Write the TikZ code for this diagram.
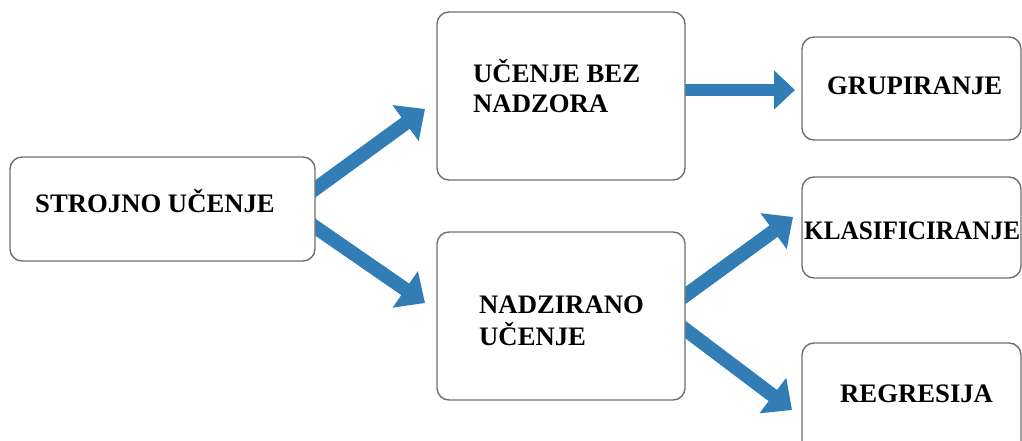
\documentclass[tikz,border=0pt]{standalone}
\usepackage{fontspec}
\setmainfont{Liberation Serif}
\usetikzlibrary{arrows.meta}
\definecolor{arrowblue}{RGB}{50,125,182}
\definecolor{boxgray}{RGB}{112,112,112}
\begin{document}
\begin{tikzpicture}[x=1pt,y=-1pt,
  box/.style={draw=boxgray,line width=1.4pt,fill=white,rounded corners=12pt,inner sep=0pt,outer sep=0pt},
  lbl/.style={font=\fontsize{26.7}{30}\selectfont\bfseries,anchor=base west,inner sep=0pt},
  bigarrow/.style={draw=arrowblue,line width=14pt,-{Triangle[length=24pt,width=43pt]}},
  harrow/.style={draw=arrowblue,line width=12pt,-{Triangle[length=21pt,width=38pt]}}]
\clip (0,0) rectangle (1022,441);
\fill[white] (0,0) rectangle (1022,441);
% arrow coordinates
\coordinate (a1s) at (300,200);   \coordinate (a1e) at (425,109);
\coordinate (a2s) at (300,216.6); \coordinate (a2e) at (425,303);
\coordinate (a3s) at (676,90);    \coordinate (a3e) at (795,90);
\coordinate (a4s) at (676,302.3); \coordinate (a4e) at (793,217);
\coordinate (a5s) at (676,322.5); \coordinate (a5e) at (792,410);
\draw[bigarrow] (a1s) -- (a1e);
\draw[bigarrow] (a2s) -- (a2e);
\draw[harrow] (a3s) -- (a3e);
\draw[bigarrow] (a4s) -- (a4e);
\draw[bigarrow] (a5s) -- (a5e);
% boxes
\node[box,minimum width=305pt,minimum height=104pt] (s) at (162.5,209) {};
\node[box,minimum width=248pt,minimum height=168pt] (b1) at (561,96) {};
\node[box,minimum width=248pt,minimum height=168pt] (b2) at (561,316) {};
\node[box,minimum width=219pt,minimum height=103pt] (g) at (911.5,88.5) {};
\node[box,minimum width=219pt,minimum height=101pt] (k) at (911.5,227.5) {};
\node[box,minimum width=219pt,minimum height=110pt] (r) at (911.5,398) {};
% labels
\node[lbl] (ts) at (35,212) {STROJNO UČENJE};
\node[lbl] (tb1a) at (473,83) {UČENJE BEZ};
\node[lbl] (tb1b) at (473,113) {NADZORA};
\node[lbl] (tb2a) at (479,313) {NADZIRANO};
\node[lbl] (tb2b) at (479,345) {UČENJE};
\node[lbl] (tg) at (827,95) {GRUPIRANJE};
\node[lbl,xscale=0.945] (tk) at (804,239) {KLASIFICIRANJE};
\node[lbl] (tr) at (840,402) {REGRESIJA};
\end{tikzpicture}
\end{document}
